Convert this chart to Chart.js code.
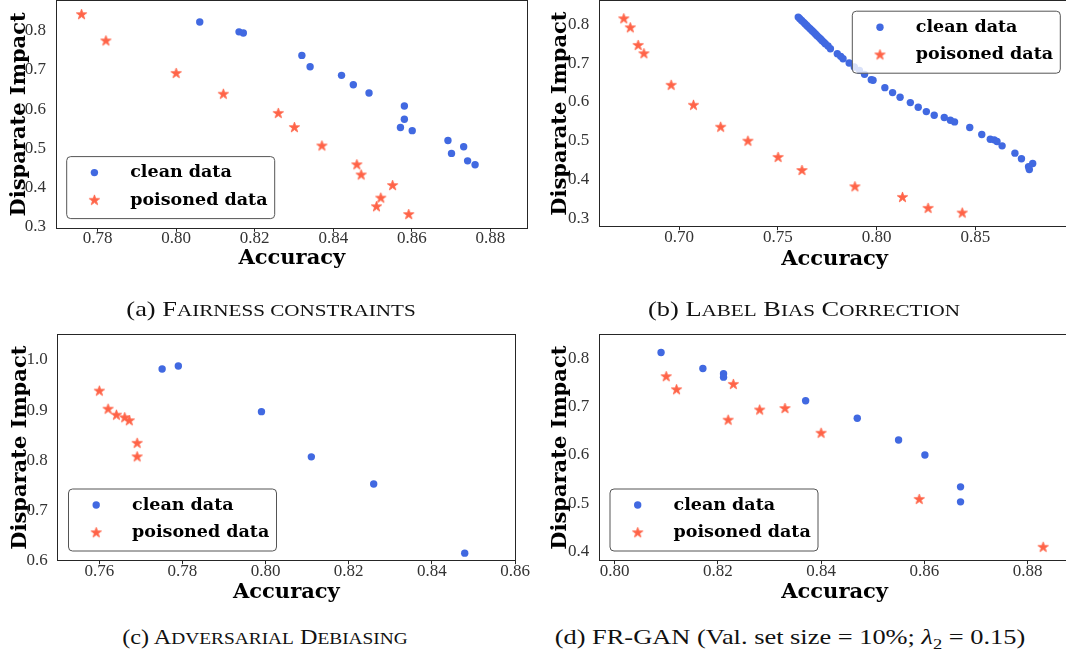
<!DOCTYPE html>
<html>
<head>
<meta charset="utf-8">
<script src="https://cdn.jsdelivr.net/npm/chart.js@4.4.1/dist/chart.umd.min.js"></script>
<style>
  html, body { margin: 0; padding: 0; background: #fff; }
  body { width: 1066px; height: 657px; overflow: hidden; position: relative; }
  canvas { position: absolute; }
  .caption {
    position: absolute;
    transform: translateX(-50%) scaleX(1.2);
    white-space: nowrap;
    font-family: "Liberation Serif", serif;
    font-size: 22px;
    line-height: 1;
    color: #111;
  }
  .sc { font-size: 80%; }
  .sub { font-size: 70%; position: relative; top: 0.3em; }
</style>
</head>
<body>
<canvas id="chartA" width="533" height="302" style="left:0px;top:-20px"></canvas>
<canvas id="chartB" width="540" height="302" style="left:541px;top:-20px"></canvas>
<canvas id="chartC" width="533" height="305" style="left:0px;top:310px"></canvas>
<canvas id="chartD" width="540" height="305" style="left:541px;top:310px"></canvas>

<div class="caption" style="left:271px;top:298px">(a) F<span class="sc">AIRNESS CONSTRAINTS</span></div>
<div class="caption" style="left:804px;top:298px">(b) L<span class="sc">ABEL</span> B<span class="sc">IAS</span> C<span class="sc">ORRECTION</span></div>
<div class="caption" style="left:265px;top:626px;transform:translateX(-50%) scaleX(1.1)">(c) A<span class="sc">DVERSARIAL</span> D<span class="sc">EBIASING</span></div>
<div class="caption" style="left:790px;top:626px">(d) FR-GAN (Val. set size = 10%; <i>λ</i><span class="sub">2</span> = 0.15)</div>

<script>
const seriesLabels = ["clean data", "poisoned data"];

// (a) fairness constraints
const accCleanA = [0.8060, 0.8160, 0.8171, 0.8320, 0.8341, 0.8421, 0.8451, 0.8491, 0.8581, 0.8581, 0.8571, 0.8601, 0.8692, 0.8701, 0.8732, 0.8742, 0.8761];
const diCleanA = [0.822, 0.797, 0.794, 0.737, 0.708, 0.686, 0.662, 0.641, 0.608, 0.574, 0.553, 0.545, 0.520, 0.487, 0.504, 0.468, 0.458];
const accPoisonA = [0.7759, 0.7821, 0.8000, 0.8120, 0.8260, 0.8301, 0.8371, 0.8460, 0.8471, 0.8551, 0.8521, 0.8510, 0.8592];
const diPoisonA = [0.841, 0.774, 0.691, 0.638, 0.589, 0.553, 0.506, 0.458, 0.432, 0.405, 0.373, 0.351, 0.331];
const xTicksA = [0.78, 0.80, 0.82, 0.84, 0.86, 0.88];
const yTicksA = [0.3, 0.4, 0.5, 0.6, 0.7, 0.8];

// (b) label bias correction
const accCleanB = [0.7603, 0.7611, 0.7620, 0.7629, 0.7637, 0.7646, 0.7654, 0.7663, 0.7672, 0.7680, 0.7689, 0.7697, 0.7706, 0.7715, 0.7723, 0.7732, 0.7740, 0.7754, 0.7766, 0.7801, 0.7818, 0.7830, 0.7861, 0.7887, 0.7913, 0.7939, 0.7973, 0.7982, 0.8042, 0.8081, 0.8119, 0.8171, 0.8211, 0.8252, 0.8292, 0.8343, 0.8374, 0.8395, 0.8472, 0.8533, 0.8576, 0.8596, 0.8610, 0.8636, 0.8701, 0.8734, 0.8770, 0.8774, 0.8791];
const diCleanB = [0.8189, 0.8146, 0.8103, 0.8060, 0.8017, 0.7974, 0.7931, 0.7889, 0.7846, 0.7803, 0.7760, 0.7717, 0.7674, 0.7631, 0.7588, 0.7545, 0.7502, 0.7443, 0.7374, 0.7245, 0.7177, 0.7117, 0.7005, 0.6902, 0.6816, 0.6713, 0.6576, 0.6559, 0.6370, 0.6242, 0.6122, 0.5985, 0.5864, 0.5753, 0.5659, 0.5599, 0.5530, 0.5487, 0.5341, 0.5161, 0.5041, 0.5024, 0.4981, 0.4870, 0.4681, 0.4535, 0.4329, 0.4261, 0.4415];
const accPoisonB = [0.6719, 0.6752, 0.6792, 0.6821, 0.6959, 0.7072, 0.7210, 0.7348, 0.7501, 0.7622, 0.7890, 0.8131, 0.8261, 0.8434];
const diPoisonB = [0.8146, 0.7914, 0.7460, 0.7245, 0.6431, 0.5916, 0.5350, 0.4990, 0.4571, 0.4235, 0.3815, 0.3541, 0.3258, 0.3138];
const xTicksB = [0.70, 0.75, 0.80, 0.85];
const yTicksB = [0.3, 0.4, 0.5, 0.6, 0.7, 0.8];

// (c) adversarial debiasing
const accCleanC = [0.7751, 0.7790, 0.7990, 0.8110, 0.8260, 0.8479];
const diCleanC = [0.982, 0.988, 0.897, 0.807, 0.753, 0.615];
const accPoisonC = [0.7600, 0.7621, 0.7641, 0.7661, 0.7672, 0.7691, 0.7691];
const diPoisonC = [0.938, 0.902, 0.890, 0.885, 0.879, 0.834, 0.807];
const xTicksC = [0.76, 0.78, 0.80, 0.82, 0.84, 0.86];
const yTicksC = [0.6, 0.7, 0.8, 0.9, 1.0];

// (d) FR-GAN
const accCleanD = [0.8090, 0.8171, 0.8211, 0.8211, 0.8370, 0.8470, 0.8550, 0.8601, 0.8670, 0.8670];
const diCleanD = [0.812, 0.779, 0.768, 0.761, 0.712, 0.676, 0.631, 0.600, 0.534, 0.503];
const accPoisonD = [0.8100, 0.8120, 0.8230, 0.8220, 0.8281, 0.8330, 0.8400, 0.8590, 0.8830];
const diPoisonD = [0.762, 0.735, 0.746, 0.672, 0.693, 0.696, 0.645, 0.508, 0.409];
const xTicksD = [0.80, 0.82, 0.84, 0.86, 0.88];
const yTicksD = [0.4, 0.5, 0.6, 0.7, 0.8];

const BLUE = "#4169e1";
const RED = "#ff6347";
const FRAME = "#262626";

function makeStar(r, color) {
  const size = Math.ceil(2 * r + 4);
  const c = document.createElement("canvas");
  c.width = size;
  c.height = size;
  const g = c.getContext("2d");
  g.beginPath();
  for (let k = 0; k < 10; k++) {
    const rad = k % 2 === 0 ? r : r * 0.382;
    const ang = -Math.PI / 2 + (k * Math.PI) / 5;
    const px = size / 2 + rad * Math.cos(ang);
    const py = size / 2 + rad * Math.sin(ang);
    if (k === 0) g.moveTo(px, py);
    else g.lineTo(px, py);
  }
  g.closePath();
  g.fillStyle = color;
  g.fill();
  g.strokeStyle = color;
  g.lineWidth = 0.9;
  g.lineJoin = "round";
  g.stroke();
  return c;
}
const starImg = makeStar(5.4, RED);

function toPoints(xs, ys) {
  return xs.map((x, i) => ({ x: x, y: ys[i] }));
}

// spines on all four sides
const framePlugin = {
  id: "frame",
  afterDatasetsDraw(chart) {
    const { ctx, chartArea: a } = chart;
    const l = Math.floor(a.left) + 0.5;
    const t = Math.floor(a.top) + 0.5;
    const r = Math.floor(a.right) + 0.5;
    const b = Math.floor(a.bottom) + 0.5;
    ctx.save();
    ctx.strokeStyle = FRAME;
    ctx.lineWidth = 1;
    ctx.strokeRect(l, t, r - l, b - t);
    ctx.restore();
  },
};

// matplotlib-like framed legend inside the axes
const boxLegend = {
  id: "boxLegend",
  afterDraw(chart, args, opts) {
    const { ctx, chartArea: a } = chart;
    const w = 208, h = 62, inset = 10.2;
    let x = a.left + inset;
    let y = a.bottom - inset - h;
    if (opts.corner === "upperRight") {
      x = a.right - inset - w;
      y = a.top + inset;
    }
    ctx.save();
    ctx.beginPath();
    ctx.roundRect(x + 0.5, y + 0.5, w, h, 4);
    ctx.fillStyle = "rgba(255,255,255,0.8)";
    ctx.fill();
    ctx.strokeStyle = "#555";
    ctx.lineWidth = 1;
    ctx.stroke();

    const rows = [16.5, 44.2];
    ctx.font = "bold 17.5px 'DejaVu Serif'";
    ctx.textBaseline = "middle";
    ctx.textAlign = "left";
    chart.data.datasets.forEach((ds, i) => {
      const my = y + rows[i];
      const mx = x + 28.2;
      if (ds.pointStyle instanceof HTMLCanvasElement) {
        ctx.drawImage(ds.pointStyle, mx - ds.pointStyle.width / 2, my - ds.pointStyle.height / 2);
      } else {
        ctx.beginPath();
        ctx.arc(mx, my, 3.7, 0, Math.PI * 2);
        ctx.fillStyle = ds.backgroundColor;
        ctx.fill();
      }
      ctx.fillStyle = "#000";
      ctx.fillText(ds.label, x + 64, my);
    });
    ctx.restore();
  },
};

function makeChart(id, cfg) {
  const cv = document.getElementById(id);
  const left = parseFloat(cv.style.left), top = parseFloat(cv.style.top);
  const W = cv.width, H = cv.height;
  const yAxisWidth = cfg.area.left - left;
  const xAxisHeight = top + H - cfg.area.bottom;

  return new Chart(cv.getContext("2d"), {
    type: "scatter",
    data: {
      datasets: [
        {
          label: seriesLabels[0],
          data: toPoints(cfg.cleanX, cfg.cleanY),
          backgroundColor: BLUE,
          borderWidth: 0,
          pointStyle: "circle",
          pointRadius: 3.7,
          pointHoverRadius: 3.7,
        },
        {
          label: seriesLabels[1],
          data: toPoints(cfg.poisonX, cfg.poisonY),
          backgroundColor: RED,
          borderWidth: 0,
          pointStyle: starImg,
          pointRadius: 5,
          pointHoverRadius: 5,
        },
      ],
    },
    options: {
      responsive: false,
      animation: false,
      events: [],
      layout: {
        padding: { left: 0, top: cfg.area.top - top, right: left + W - cfg.area.right, bottom: 0 },
      },
      plugins: {
        legend: { display: false },
        tooltip: { enabled: false },
        boxLegend: { corner: cfg.corner },
      },
      scales: {
        x: {
          type: "linear",
          min: cfg.xRange[0],
          max: cfg.xRange[1],
          afterBuildTicks: (s) => { s.ticks = cfg.xTicks.map((v) => ({ value: v })); },
          afterFit: (s) => { s.height = xAxisHeight; s.paddingLeft = 0; s.paddingRight = 0; },
          grid: { display: true, drawOnChartArea: false, drawTicks: true, tickLength: 3.5, color: FRAME },
          border: { display: false },
          ticks: {
            autoSkip: false,
            maxRotation: 0,
            padding: -3,
            color: "#333",
            font: { family: "'Liberation Serif'", size: 17 },
            callback: (v) => Number(v).toFixed(2),
          },
          title: {
            display: true,
            text: "Accuracy",
            color: "#000",
            font: { family: "'DejaVu Serif'", size: 21, weight: "bold" },
            padding: { top: 0, bottom: cfg.xTitlePad },
          },
        },
        y: {
          type: "linear",
          min: cfg.yRange[0],
          max: cfg.yRange[1],
          afterBuildTicks: (s) => { s.ticks = cfg.yTicks.map((v) => ({ value: v })); },
          afterFit: (s) => { s.width = yAxisWidth; s.paddingTop = 0; s.paddingBottom = 0; },
          grid: { display: false },
          border: { display: false },
          ticks: {
            autoSkip: false,
            padding: 2,
            color: "#333",
            font: { family: "'Liberation Serif'", size: 17 },
            callback: (v) => Number(v).toFixed(1),
          },
          title: {
            display: true,
            text: "Disparate Impact",
            color: "#000",
            font: { family: "'DejaVu Serif'", size: 21, weight: "bold" },
            padding: { top: cfg.yTitlePad, bottom: 0 },
          },
        },
      },
    },
    plugins: [framePlugin, boxLegend],
  });
}

makeChart("chartA", {
  cleanX: accCleanA, cleanY: diCleanA, poisonX: accPoisonA, poisonY: diPoisonA,
  xTicks: xTicksA, yTicks: yTicksA,
  xRange: [0.7694, 0.8895], yRange: [0.2959, 0.877],
  area: { left: 56, top: 0.5, right: 527.7, bottom: 228.3 },
  xTitlePad: 11.3, yTitlePad: 6.5, corner: "lowerLeft",
});

makeChart("chartB", {
  cleanX: accCleanB, cleanY: diCleanB, poisonX: accPoisonB, poisonY: diPoisonB,
  xTicks: xTicksB, yTicks: yTicksB,
  xRange: [0.6595, 0.898], yRange: [0.2785, 0.8617],
  area: { left: 599.3, top: 0.5, right: 1070, bottom: 226.7 },
  xTitlePad: 10.3, yTitlePad: 7.2, corner: "upperRight",
});

makeChart("chartC", {
  cleanX: accCleanC, cleanY: diCleanC, poisonX: accPoisonC, poisonY: diPoisonC,
  xTicks: xTicksC, yTicks: yTicksC,
  xRange: [0.75, 0.86], yRange: [0.6, 1.0504],
  area: { left: 57.8, top: 334.7, right: 515, bottom: 560.7 },
  xTitlePad: 10, yTitlePad: 7.5, corner: "lowerLeft",
});

makeChart("chartD", {
  cleanX: accCleanD, cleanY: diCleanD, poisonX: accPoisonD, poisonY: diPoisonD,
  xTicks: xTicksD, yTicks: yTicksD,
  xRange: [0.79704, 0.8882], yRange: [0.3812, 0.8488],
  area: { left: 599.3, top: 334.7, right: 1070, bottom: 560.7 },
  xTitlePad: 10, yTitlePad: 7.2, corner: "lowerLeft",
});
</script>
</body>
</html>
